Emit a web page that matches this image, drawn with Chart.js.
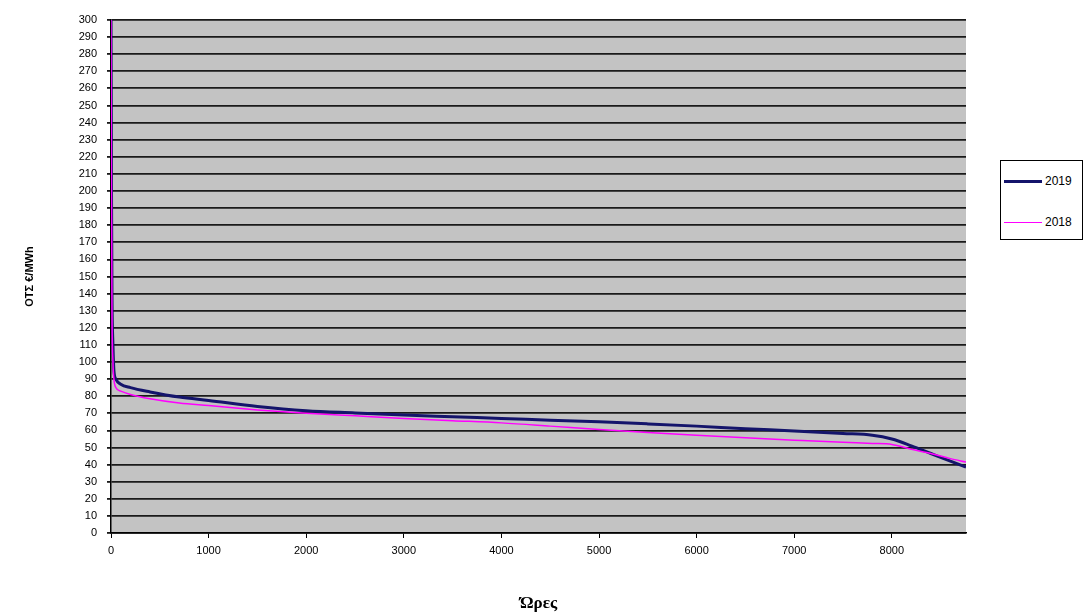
<!DOCTYPE html>
<html>
<head>
<meta charset="utf-8">
<script src="https://cdn.jsdelivr.net/npm/chart.js@4/dist/chart.umd.min.js"></script>
<style>
  html, body { margin: 0; padding: 0; background: #fff; }
  #wrap { position: relative; width: 1091px; height: 616px; }
  #legend { position: absolute; left: 1000px; top: 160px; width: 81px; height: 78px;
            border: 1.5px solid #000; background: #fff; font: 12px "Liberation Sans", Arial, sans-serif; color: #000; }
  .item { position: absolute; left: 3px; height: 14px; display: flex; align-items: center; }
  .sw { width: 38px; margin-right: 3px; }
</style>
</head>
<body>
<div id="wrap">
  <canvas id="c" width="1091" height="616"></canvas>
  <div id="legend">
    <div class="item" style="top:13px"><span class="sw" style="border-top:3px solid #14146b"></span><span>2019</span></div>
    <div class="item" style="top:54px"><span class="sw" style="border-top:1.5px solid #ff00ff"></span><span>2018</span></div>
  </div>
</div>
<script>
const hours = [0,5,10,20,30,50,100,200,400,700,1000,1500,2000,2500,3000,3500,4000,4500,5000,5500,6000,6500,7000,7500,7800,8000,8200,8400,8600,8760];
const price2019 = [300,200,140,110,95,90,87,85,82.5,79.5,77.5,74,71.5,70.2,69,68,67,66,65,63.8,62.5,61,59.7,58.2,57.2,55,51,46.5,42,38.5];
const price2018 = [300,200,130,100,90,85,83,81,78.5,76,74.5,72,70,68.5,67,65.7,64.4,62.5,60.5,58.8,57.2,55.7,54.3,53,52.4,51.8,49,46.5,43.5,41.5];
const seriesNames = ['2019','2018'];
const xTicks = [0,1000,2000,3000,4000,5000,6000,7000,8000];
const yTitle = 'ΟΤΣ €/MWh';
const xTitle = 'Ώρες';

const toXY = (xs, ys) => xs.map((x, i) => ({x: x, y: ys[i]}));

const plotBg = {
  id: 'plotBg',
  beforeDraw(chart) {
    const a = chart.chartArea, ctx = chart.ctx;
    ctx.save();
    ctx.fillStyle = '#c3c3c3';
    ctx.fillRect(a.left, a.top, a.right - a.left, a.bottom - a.top);
    ctx.restore();
  }
};

const font = { family: '"Liberation Sans", Arial, sans-serif', size: 11 };

new Chart(document.getElementById('c'), {
  type: 'line',
  data: {
    datasets: [
      { label: seriesNames[0], data: toXY(hours, price2019), borderColor: '#14146b', borderWidth: 3,
        pointRadius: 0, cubicInterpolationMode: 'monotone', fill: false, order: 2 },
      { label: seriesNames[1], data: toXY(hours, price2018), borderColor: '#ff00ff', borderWidth: 1.5,
        pointRadius: 0, cubicInterpolationMode: 'monotone', fill: false, order: 1 }
    ]
  },
  options: {
    responsive: false,
    animation: false,
    maintainAspectRatio: false,
    layout: { padding: { left: 0, right: 125, top: 20, bottom: 0 } },
    plugins: { legend: { display: false }, tooltip: { enabled: false } },
    scales: {
      x: {
        type: 'linear', min: 0, max: 8760,
        afterBuildTicks: s => { s.ticks = xTicks.map(v => ({value: v})); },
        afterFit: s => { s.height = 83; },
        grid: { drawOnChartArea: false, drawTicks: true, tickLength: 5, color: '#000' },
        border: { color: '#000', width: 1.5 },
        ticks: { color: '#000', font: font, padding: 6, maxRotation: 0, autoSkip: false,
                 callback: v => String(v) },
        title: { display: true, text: xTitle, color: '#000',
                 font: { family: '"Liberation Serif", "DejaVu Serif", serif', size: 17, weight: 'bold' },
                 padding: { top: 0, bottom: 2 } }
      },
      y: {
        min: 0, max: 300,
        afterFit: s => { s.width = 111; },
        grid: { color: '#1a1a1a', lineWidth: 1.8, tickLength: 4, drawTicks: true },
        border: { color: '#000', width: 1.5 },
        ticks: { stepSize: 10, autoSkip: false, color: '#000', font: font, padding: 10 },
        title: { display: true, text: yTitle, color: '#000',
                 font: { family: '"Liberation Sans", Arial, sans-serif', size: 11, weight: 'bold' },
                 padding: { top: 23, bottom: 0 } }
      }
    }
  },
  plugins: [plotBg]
});
</script>
</body>
</html>
